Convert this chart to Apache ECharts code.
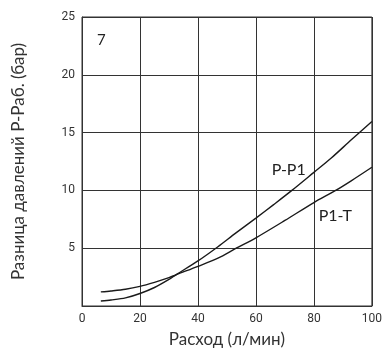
<!DOCTYPE html>
<html>
<head>
<meta charset="utf-8">
<script src="https://cdn.jsdelivr.net/npm/echarts@6/dist/echarts.min.js"></script>
<style>html,body{margin:0;padding:0;background:#fff}#c{width:385px;height:353px}</style>
</head>
<body>
<div id="c"></div>
<script>
// Data
const flowPP1 = [6.5, 10, 15, 20, 25, 30, 32.4, 40, 46.9, 53, 60, 66, 72.4, 80, 86, 93, 100];
const valPP1  = [0.43, 0.52, 0.7, 1.08, 1.6, 2.3, 2.7, 3.9, 5.13, 6.3, 7.6, 8.75, 10.0, 11.56, 12.8, 14.4, 15.96];
const flowP1T = [6.5, 10, 15, 20, 25, 30, 32.4, 40, 46.9, 53.2, 60, 70, 80, 87.2, 93, 100];
const valP1T  = [1.22, 1.3, 1.45, 1.7, 2.05, 2.45, 2.7, 3.43, 4.14, 5.0, 5.9, 7.4, 8.95, 9.95, 10.85, 12.0];
const xTicks = [0, 20, 40, 60, 80, 100];
const yTicks = [5, 10, 15, 20, 25];
const seriesNames = ['P-P1', 'P1-T'];
const labelPos = [[71.3, 11.8], [87.4, 7.8]];
const panelLabel = '7';
const xTitle = 'Расход (л/мин)';
const yTitle = 'Разница давлений Р-Раб. (бар)';

const pair = (xs, ys) => xs.map((x, i) => [x, ys[i]]);
const tickFont = 'Roboto';
const titleFont = 'Lato';

const curveLabel = (name, pos) => ({
  symbol: 'circle', symbolSize: 1,
  itemStyle: {color: 'rgba(0,0,0,0)'},
  label: {show: true, position: 'inside', formatter: name, fontFamily: titleFont, fontSize: 16, color: '#222'},
  data: [{coord: pos}]
});

const chart = echarts.init(document.getElementById('c'), null, {renderer: 'canvas'});
chart.setOption({
  animation: false,
  backgroundColor: '#fff',
  title: {
    text: panelLabel, left: 92, top: 28,
    textStyle: {fontFamily: titleFont, fontSize: 15, fontWeight: 'normal', color: '#222'}
  },
  grid: {left: 82, top: 17, right: 9, bottom: 42, show: true, borderColor: '#333', borderWidth: 1},
  xAxis: {
    type: 'value', min: 0, max: 100, interval: 20,
    name: xTitle, nameLocation: 'middle', nameGap: 25,
    nameTextStyle: {fontFamily: titleFont, fontSize: 17, color: '#333'},
    axisLine: {show: true, lineStyle: {color: '#333'}},
    axisTick: {show: false},
    axisLabel: {fontFamily: tickFont, fontSize: 12, color: '#333', margin: 7,
      formatter: v => xTicks.includes(v) ? String(v) : ''},
    splitLine: {show: true, lineStyle: {color: '#333', width: 1}}
  },
  yAxis: {
    type: 'value', min: 0, max: 25, interval: 5,
    name: yTitle, nameLocation: 'middle', nameGap: 55,
    nameTextStyle: {fontFamily: titleFont, fontSize: 17, color: '#333'},
    axisLine: {show: true, lineStyle: {color: '#333'}},
    axisTick: {show: false},
    axisLabel: {fontFamily: tickFont, fontSize: 12, color: '#333', margin: 7,
      formatter: v => yTicks.includes(v) ? String(v) : ''},
    splitLine: {show: true, lineStyle: {color: '#333', width: 1}}
  },
  series: [
    {
      name: seriesNames[0], type: 'line', smooth: 0.3, showSymbol: false,
      lineStyle: {color: '#1a1a1a', width: 1.4},
      data: pair(flowPP1, valPP1),
      markPoint: curveLabel(seriesNames[0], labelPos[0])
    },
    {
      name: seriesNames[1], type: 'line', smooth: 0.3, showSymbol: false,
      lineStyle: {color: '#1a1a1a', width: 1.4},
      data: pair(flowP1T, valP1T),
      markPoint: curveLabel(seriesNames[1], labelPos[1])
    }
  ]
});
</script>
</body>
</html>
